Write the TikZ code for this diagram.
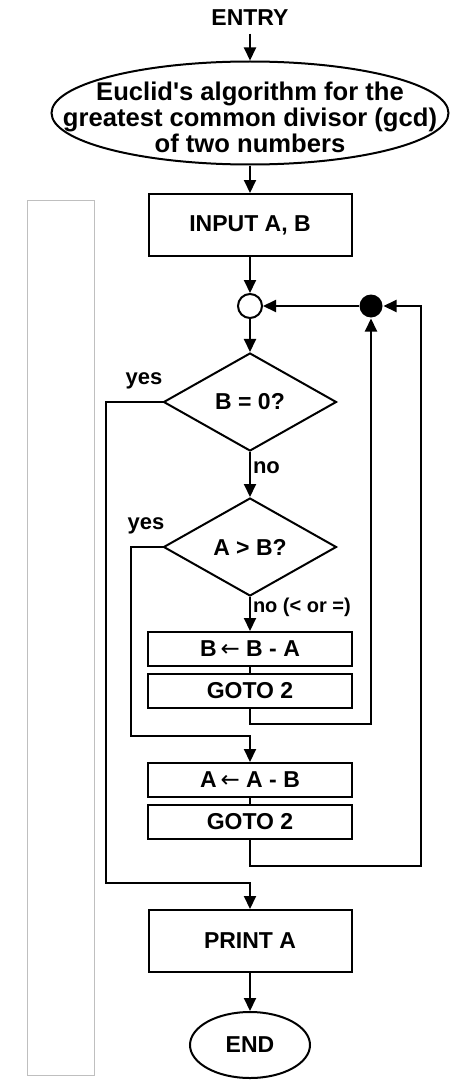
\documentclass[tikz,border=0pt]{standalone}
\usepackage{fontspec}
\setmainfont{Liberation Sans}
\newfontfamily\arrowfont{DejaVu Sans}
\usetikzlibrary{arrows.meta,shapes.geometric}

\begin{document}
\begin{tikzpicture}[x=0.5pt,y=-0.5pt,line width=1pt,>={Triangle[length=6.5pt,width=6pt]},
  every node/.style={font=\bfseries\fontsize{11.5}{13}\selectfont},
  box/.style={draw,rectangle,minimum width=101.5pt,minimum height=31pt,inner sep=0pt},
  slim/.style={box,minimum width=102pt,minimum height=17pt},
  term/.style={draw,ellipse,inner sep=0pt},
  dec/.style={draw,diamond,minimum width=86.5pt,minimum height=49pt,inner sep=0pt,aspect=1.76},
  lbl/.style={font=\bfseries\fontsize{11}{12}\selectfont,inner sep=1pt}]
\useasboundingbox (0,0) rectangle (460,1081);
\draw[line width=0.5pt,black!25] (27,200) rectangle (94,1075);
% start
\node (entry) at (250,18) {ENTRY};
\node[term,minimum width=198.5pt,minimum height=51.5pt] (algo) at (250,113) {};
\node[align=center,font=\bfseries\fontsize{12.8}{11}\selectfont] (algotxt) at (250,117) {Euclid\textquotesingle s algorithm for the\\greatest common divisor (gcd)\\of two numbers};
\node[box] (input) at (250,225) {INPUT A, B};
\node[circle,draw,fill=white,minimum size=12pt,inner sep=0pt] (join) at (250,306) {};
\node[circle,fill=black,minimum size=11.5pt,inner sep=0pt] (dot) at (371,306) {};
% tests
\node[dec] (q1) at (250,402) {B = 0?};
\node[dec] (q2) at (250,547) {A > B?};
\node[slim] (sub1) at (250,649) {B\,{\arrowfont\mdseries ←} B - A};
\node[slim] (goto1) at (250,691) {GOTO 2};
\node[slim] (sub2) at (250,780) {A\,{\arrowfont\mdseries ←} A - B};
\node[slim] (goto2) at (250,822) {GOTO 2};
\node[box] (print) at (250,941) {PRINT A};
\node[term,minimum width=60pt,minimum height=33pt] (stop) at (250,1045) {END};
\node[lbl] (yes1) at (144,381) {yes};
\node[lbl] (yes2) at (146,526) {yes};
\coordinate (bend1) at (106,883);
\coordinate (bend2) at (131,736);
\coordinate (back) at (421,306);
% connectors
\draw[->] (entry) -- (algo);
\draw[->] (algo) -- (input);
\draw[->] (input) -- (join);
\draw[->] (join) -- (q1);
\draw[->] (q1) -- node[lbl,pos=0.35,right] {no} (q2);
\draw[->] (q2) -- node[lbl,pos=0.3,right,font=\bfseries\fontsize{10}{11}\selectfont] {no (< or =)} (sub1);
\draw (sub1) -- (goto1);
\draw (sub2) -- (goto2);
\draw[->] (goto1.south) -- ++(0,15) -| (dot);
\draw[->] (goto2.south) -- ++(0,26) -| (back) -- (dot);
\draw[->] (dot) -- (join);
\draw[->] (q1.west) -| (bend1) -| (print);
\draw[->] (q2.west) -| (bend2) -| (sub2);
\draw[->] (print) -- (stop);
\end{tikzpicture}
\end{document}
